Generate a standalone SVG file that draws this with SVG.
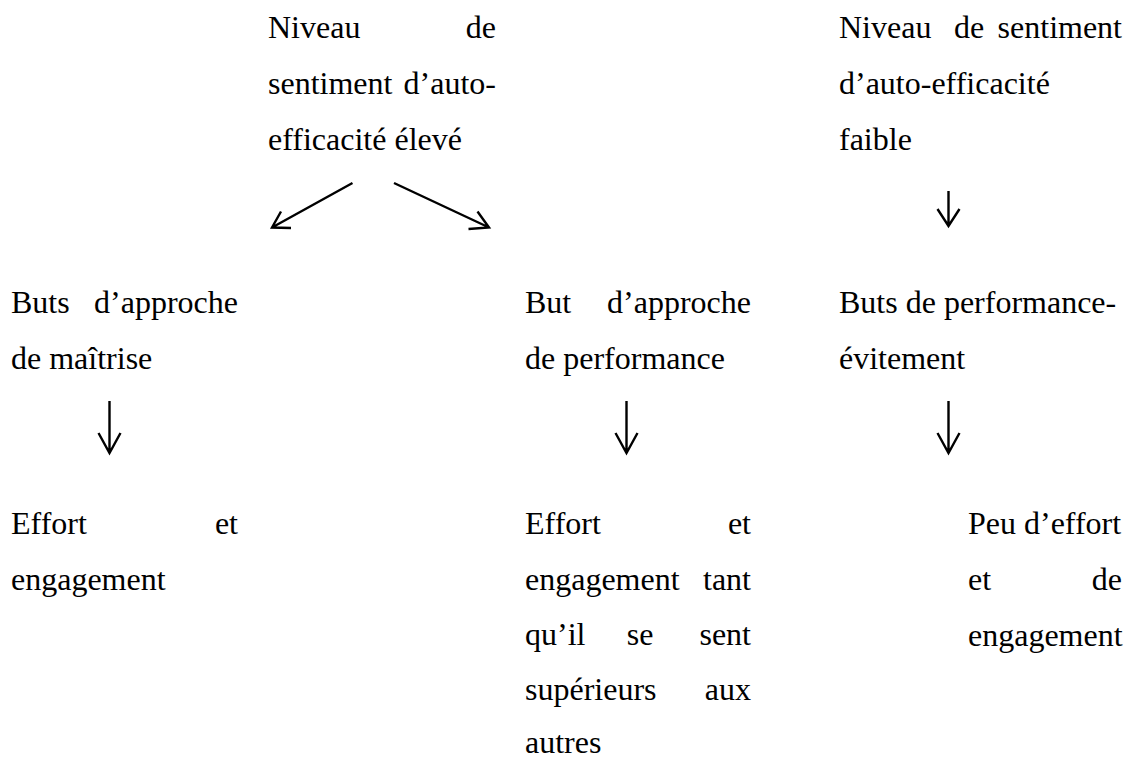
<svg xmlns="http://www.w3.org/2000/svg" width="1129" height="758" viewBox="0 0 1129 758">
<style>
text{font-family:'Liberation Serif','Times New Roman',Tinos,serif;font-size:32px;fill:#000}
.e{text-anchor:end}
.m{text-anchor:middle}
.c path{fill:none;stroke:#000;stroke-width:2.4;stroke-linecap:butt;stroke-linejoin:miter}
</style>
<rect width="1129" height="758" fill="#fff"/>
<g id="n-high">
<text x="268" y="38">Niveau</text><text class="e" x="496" y="38">de</text>
<text x="268" y="94">sentiment</text><text class="e" x="496" y="94">d’auto-</text>
<text x="268" y="150">efficacité élevé</text>
</g>
<g id="n-low">
<text x="839" y="38">Niveau</text><text class="m" x="969" y="38">de</text><text class="e" x="1122" y="38">sentiment</text>
<text x="839" y="94">d’auto-efficacité</text>
<text x="839" y="150">faible</text>
</g>
<g id="n-mastery">
<text x="11" y="313">Buts</text><text class="e" x="238" y="313">d’approche</text>
<text x="11" y="369">de maîtrise</text>
</g>
<g id="n-perf">
<text x="525" y="313">But</text><text class="e" x="751" y="313">d’approche</text>
<text x="525" y="369">de performance</text>
</g>
<g id="n-avoid">
<text x="839" y="313">Buts de performance-</text>
<text x="839" y="369">évitement</text>
</g>
<g id="n-effort1">
<text x="11" y="534">Effort</text><text class="e" x="238" y="534">et</text>
<text x="11" y="590">engagement</text>
</g>
<g id="n-effort2">
<text x="525" y="534">Effort</text><text class="e" x="751" y="534">et</text>
<text x="525" y="590">engagement</text><text class="e" x="751" y="590">tant</text>
<text x="525" y="645">qu’il</text><text class="m" x="640" y="645">se</text><text class="e" x="751" y="645">sent</text>
<text x="525" y="700">supérieurs</text><text class="e" x="751" y="700">aux</text>
<text x="525" y="753">autres</text>
</g>
<g id="n-effort3">
<text x="968" y="534">Peu d’effort</text>
<text x="968" y="590">et</text><text class="e" x="1122" y="590">de</text>
<text x="968" y="646">engagement</text>
</g>
<g id="connectors" class="c">
<path d="M352.5 183 L272 227.5 M281 211.5 L272 227.5 L291 228"/>
<path d="M394 183 L489 227.5 M477.5 211.5 L489 227.5 L468.5 229"/>
<path d="M948.5 191 V226 M937.5 209 L948.5 226 L959.5 209"/>
<path d="M109.5 401 V453 M98.5 433 L109.5 453 L120.5 433"/>
<path d="M626.5 401 V453 M615.5 433 L626.5 453 L637.5 433"/>
<path d="M948.5 401 V453 M937.5 433 L948.5 453 L959.5 433"/>
</g>
</svg>
